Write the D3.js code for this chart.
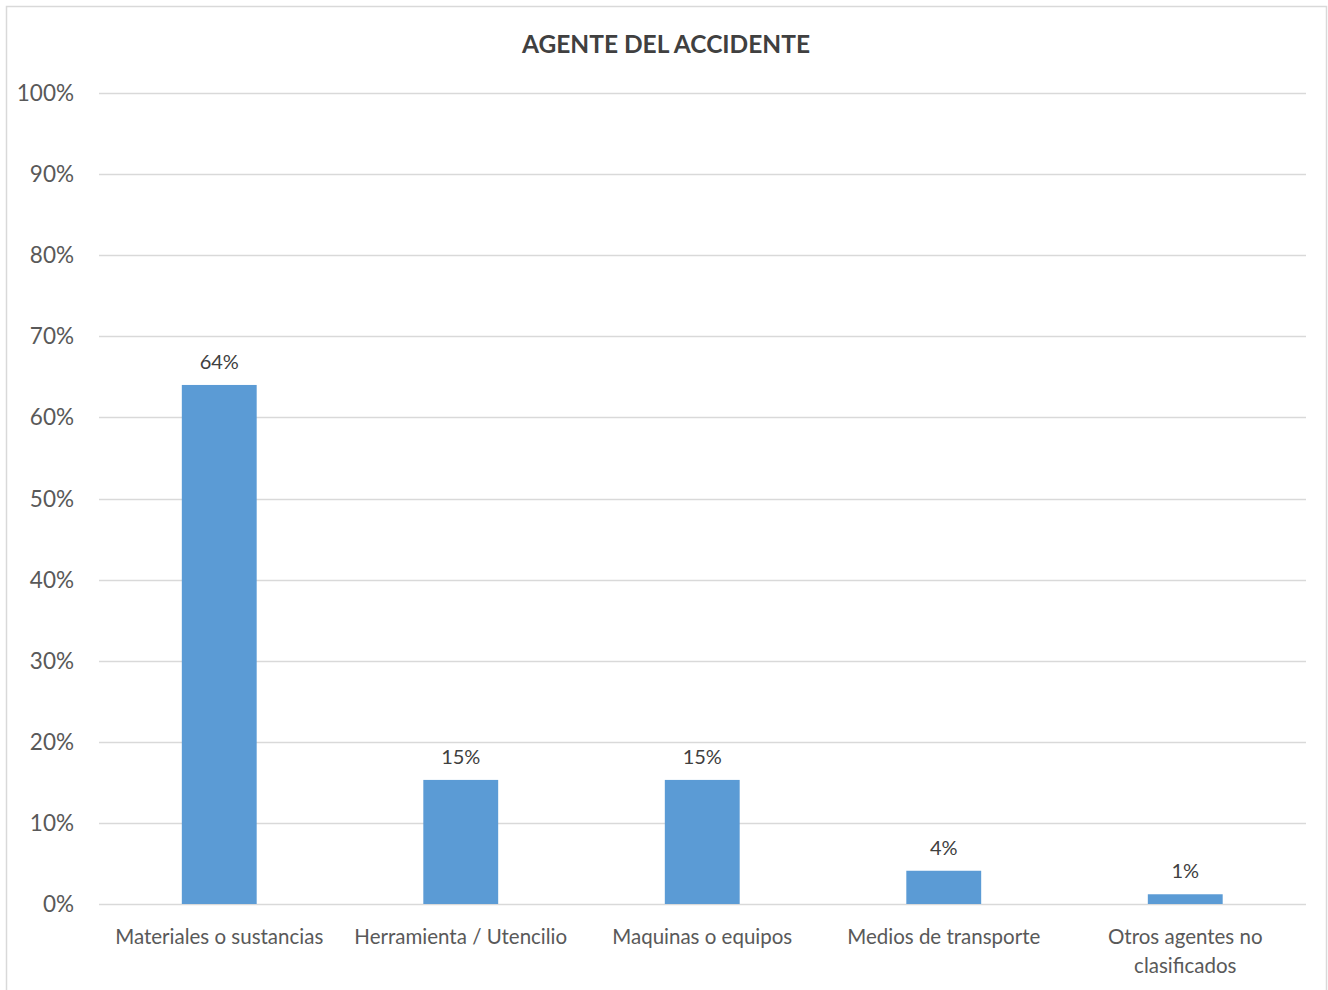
<!DOCTYPE html>
<html>
<head>
<meta charset="utf-8">
<script src="https://cdn.jsdelivr.net/npm/d3@7"></script>
<style>
  body { margin: 0; background: #fff; }
  svg { display: block; }
</style>
</head>
<body>
<div id="chart"></div>
<script>
// chart data
var categories = ["Materiales o sustancias", "Herramienta / Utencilio", "Maquinas o equipos", "Medios de transporte", "Otros agentes no clasificados"];
var values = [0.64, 0.153, 0.153, 0.041, 0.012];
var valueLabels = ["64%", "15%", "15%", "4%", "1%"];
var yTicks = [0, 0.1, 0.2, 0.3, 0.4, 0.5, 0.6, 0.7, 0.8, 0.9, 1.0];

var width = 1328, height = 990;
var font = "Lato, 'Open Sans', sans-serif";

var svg = d3.select("#chart").append("svg")
    .attr("width", width)
    .attr("height", height);

// outer chart border
svg.append("rect")
    .attr("x", 6.5)
    .attr("y", 6.5)
    .attr("width", 1320)
    .attr("height", 1000)
    .style("fill", "#fff")
    .style("stroke", "#d9d9d9")
    .style("stroke-width", 1.5);

svg.append("text")
    .attr("x", 666)
    .attr("y", 53)
    .attr("text-anchor", "middle")
    .style("font-family", font)
    .style("font-weight", "bold")
    .style("font-size", "24.5px")
    .style("fill", "#404040")
    .text("AGENTE DEL ACCIDENTE");

var x = d3.scaleBand()
    .domain(categories)
    .range([98.5, 1306])
    .paddingInner(0.69)
    .paddingOuter(0.345);

var y = d3.scaleLinear()
    .domain([0, 1])
    .range([904, 93]);

// gridlines
svg.append("g")
    .selectAll("line")
    .data(yTicks)
    .enter().append("line")
    .attr("x1", 99)
    .attr("x2", 1306)
    .attr("y1", function(d) { return Math.round(y(d)) + 0.5; })
    .attr("y2", function(d) { return Math.round(y(d)) + 0.5; })
    .style("stroke", "#d9d9d9")
    .style("stroke-width", 1.5);

// y tick labels
svg.append("g")
    .selectAll("text")
    .data(yTicks)
    .enter().append("text")
    .attr("x", 74)
    .attr("y", function(d) { return y(d) + 8; })
    .attr("text-anchor", "end")
    .style("font-family", font)
    .style("font-size", "22.5px")
    .style("fill", "#595959")
    .text(d3.format(".0%"));

// bars
svg.append("g")
    .selectAll("rect")
    .data(values)
    .enter().append("rect")
    .attr("x", function(d, i) { return x(categories[i]); })
    .attr("y", function(d) { return y(d); })
    .attr("width", x.bandwidth())
    .attr("height", function(d) { return y(0) - y(d); })
    .style("fill", "#5b9bd5");

// value labels
svg.append("g")
    .selectAll("text")
    .data(values)
    .enter().append("text")
    .attr("x", function(d, i) { return x(categories[i]) + x.bandwidth() / 2; })
    .attr("y", function(d) { return y(d) - 16; })
    .attr("text-anchor", "middle")
    .style("font-family", font)
    .style("font-size", "20px")
    .style("fill", "#404040")
    .text(function(d, i) { return valueLabels[i]; });

// category labels, wrapped to band step
var catG = svg.append("g");
categories.forEach(function(c) {
    var t = catG.append("text")
        .attr("x", x(c) + x.bandwidth() / 2)
        .attr("y", 944)
        .attr("text-anchor", "middle")
        .style("font-family", font)
        .style("font-size", "20.5px")
        .style("fill", "#595959");
    var words = c.split(" "), line = [];
    var ts = t.append("tspan").attr("x", x(c) + x.bandwidth() / 2).attr("dy", 0);
    words.forEach(function(w) {
        line.push(w);
        ts.text(line.join(" "));
        if (ts.node().getComputedTextLength() > x.step() - 10 && line.length > 1) {
            line.pop();
            ts.text(line.join(" "));
            line = [w];
            ts = t.append("tspan").attr("x", x(c) + x.bandwidth() / 2).attr("dy", 29).text(w);
        }
    });
});
</script>
</body>
</html>
